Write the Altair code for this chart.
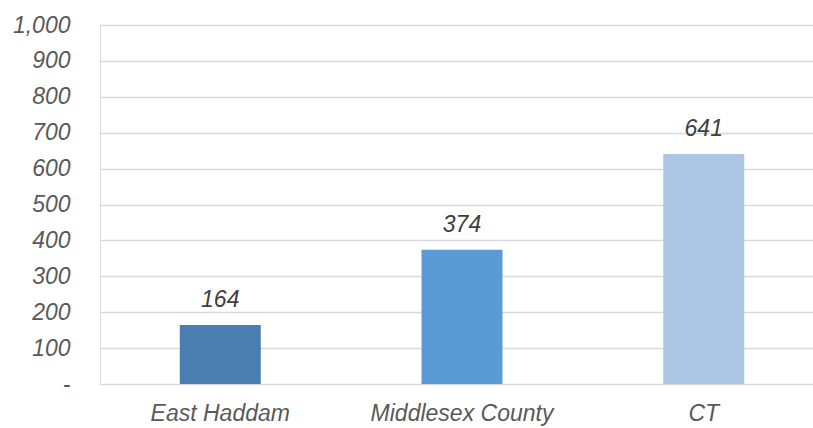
import altair as alt
import pandas as pd

categories = ["East Haddam", "Middlesex County", "CT"]
values = [164, 374, 641]
colors = ["#4A7EB0", "#5B9BD5", "#ADC6E5"]
y_ticks = [0, 100, 200, 300, 400, 500, 600, 700, 800, 900, 1000]

df = pd.DataFrame({"region": categories, "value": values})

FONT = "Liberation Sans"
SIZE = 23

base = alt.Chart(df).encode(
    x=alt.X(
        "region:N",
        sort=categories,
        title=None,
        scale=alt.Scale(range=[0, 724], paddingInner=0.665, paddingOuter=0.33),
        axis=alt.Axis(
            labelAngle=0,
            domain=False,
            ticks=False,
            labelFont=FONT,
            labelFontSize=SIZE,
            labelFontStyle="italic",
            labelColor="#595959",
            labelPadding=18,
            labelLimit=400,
        ),
    ),
    y=alt.Y(
        "value:Q",
        title=None,
        scale=alt.Scale(domain=[0, 1000], nice=False),
        axis=alt.Axis(
            values=y_ticks,
            labelExpr="datum.value == 0 ? '-' : format(datum.value, ',')",
            domain=False,
            ticks=False,
            grid=True,
            gridColor="#D9D9D9",
            gridWidth=1.5,
            labelFont=FONT,
            labelFontSize=SIZE,
            labelFontStyle="italic",
            labelColor="#595959",
            labelPadding=30,
        ),
    ),
)

bars = base.mark_bar().encode(
    color=alt.Color("region:N", scale=alt.Scale(domain=categories, range=colors), legend=None)
)

labels = base.mark_text(
    baseline="alphabetic",
    dy=-18,
    font=FONT,
    fontSize=SIZE,
    fontStyle="italic",
    color="#404040",
).encode(text=alt.Text("value:Q"))

chart = (
    (bars + labels)
    .properties(
        width=713,
        height=359,
        autosize=alt.AutoSizeParams(type="none"),
        padding={"left": 100, "top": 25, "right": 0, "bottom": 44},
    )
    .configure_view(stroke=None)
    .configure(background="white")
)

chart.save("out.html", embed_options={"renderer": "svg", "actions": False})
